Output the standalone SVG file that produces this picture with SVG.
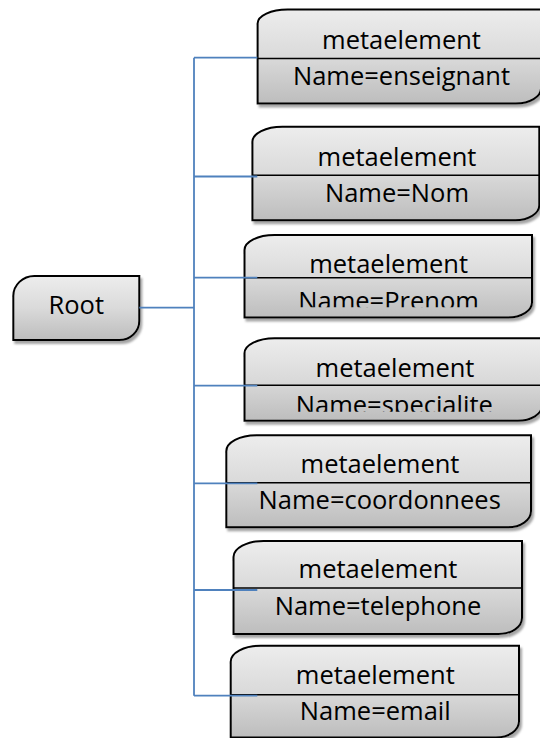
<svg xmlns="http://www.w3.org/2000/svg" width="540" height="738" viewBox="0 0 540 738">
  <defs>
    <linearGradient id="g" x1="0" y1="0" x2="0" y2="1">
      <stop offset="0" stop-color="#EDEDED"/>
      <stop offset="0.5" stop-color="#DADADA"/>
      <stop offset="1" stop-color="#BDBDBD"/>
    </linearGradient>
    <filter id="sh" x="-5%" y="-5%" width="115%" height="120%">
      <feDropShadow dx="2" dy="3" stdDeviation="1" flood-color="#7F7F7F" flood-opacity="0.7"/>
    </filter>
    <clipPath id="c3"><rect x="240" y="230" width="300" height="77.3"/></clipPath>
    <clipPath id="c4"><rect x="240" y="330" width="300" height="81.7"/></clipPath>
  </defs>
  <style>
    .box { fill: url(#g); stroke: #000; stroke-width: 2; filter: url(#sh); }
    .div { stroke: #000; stroke-width: 1.6; fill: none; }
    .t { font-family: "Open Sans", "Noto Sans", "Liberation Sans", sans-serif; font-size: 25.5px; fill: #000; text-anchor: middle; }
    .con { stroke: #4F81BD; stroke-width: 1.8; fill: none; }
  </style>

  <g id="root">
    <path class="box" d="M13.3,296 A21,20 0 0 1 34.3,276 H139.3 V321 A20,19 0 0 1 119.3,340 H13.3 Z"/>
    <text class="t" x="76.3" y="314.3">Root</text>
  </g>

  <g id="n1">
    <path class="box" d="M257.6,23.5 A30,14 0 0 1 287.6,9.5 H541 V88.5 A25,15 0 0 1 516,103.5 H257.6 Z"/>
    <line class="div" x1="257.6" y1="58.5" x2="541" y2="58.5"/>
    <text class="t" x="401.5" y="49.3">metaelement</text>
    <text class="t" x="401.5" y="85">Name=enseignant</text>
  </g>

  <g id="n2">
    <path class="box" d="M252.4,141.7 A30,15 0 0 1 282.4,126.7 H539.3 V205.3 A24,15 0 0 1 515.3,220.3 H252.4 Z"/>
    <line class="div" x1="252.4" y1="175.2" x2="539.3" y2="175.2"/>
    <text class="t" x="397" y="165.7">metaelement</text>
    <text class="t" x="397" y="201.7">Name=Nom</text>
  </g>

  <g id="n3">
    <path class="box" d="M244.5,250 A30,15 0 0 1 274.5,235 H532 V302.5 A24,15 0 0 1 508,317.5 H244.5 Z"/>
    <line class="div" x1="244.5" y1="277.7" x2="532" y2="277.7"/>
    <text class="t" x="388.6" y="272.7">metaelement</text>
    <text class="t" x="388.6" y="310" clip-path="url(#c3)">Name=Prenom</text>
  </g>

  <g id="n4">
    <path class="box" d="M244.5,353.3 A30,15 0 0 1 274.5,338.3 H542 V405.7 A24,15 0 0 1 518,420.7 H244.5 Z"/>
    <line class="div" x1="244.5" y1="385.2" x2="542" y2="385.2"/>
    <text class="t" x="395" y="376.7">metaelement</text>
    <text class="t" x="394.3" y="414" clip-path="url(#c4)">Name=specialite</text>
  </g>

  <g id="n5">
    <path class="box" d="M226.3,451.3 A30,16 0 0 1 256.3,435.3 H531 V511.3 A23,16 0 0 1 508,527.3 H226.3 Z"/>
    <line class="div" x1="226.3" y1="482.7" x2="531" y2="482.7"/>
    <text class="t" x="380" y="473.3">metaelement</text>
    <text class="t" x="379.7" y="509.3">Name=coordonnees</text>
  </g>

  <g id="n6">
    <path class="box" d="M233.5,557 A30,16 0 0 1 263.5,541 H522 V618 A23,16 0 0 1 499,634 H233.5 Z"/>
    <line class="div" x1="233.5" y1="588" x2="522" y2="588"/>
    <text class="t" x="378" y="578.3">metaelement</text>
    <text class="t" x="378" y="615">Name=telephone</text>
  </g>

  <g id="n7">
    <path class="box" d="M230.7,661.7 A30,16 0 0 1 260.7,645.7 H519 V721.5 A23,16 0 0 1 496,737.5 H230.7 Z"/>
    <line class="div" x1="230.7" y1="694.8" x2="519" y2="694.8"/>
    <text class="t" x="375.3" y="684.3">metaelement</text>
    <text class="t" x="375.3" y="720">Name=email</text>
  </g>

  <g id="connectors">
    <line class="con" x1="194" y1="57.7" x2="194" y2="695.7"/>
    <line class="con" x1="139.3" y1="307.7" x2="194" y2="307.7"/>
    <line class="con" x1="194" y1="57.7" x2="257.3" y2="57.7"/>
    <line class="con" x1="194" y1="176.5" x2="257.3" y2="176.5"/>
    <line class="con" x1="194" y1="277.7" x2="257.3" y2="277.7"/>
    <line class="con" x1="194" y1="385.7" x2="257.3" y2="385.7"/>
    <line class="con" x1="194" y1="483.3" x2="257.3" y2="483.3"/>
    <line class="con" x1="194" y1="590" x2="257.3" y2="590"/>
    <line class="con" x1="194" y1="695.7" x2="257.3" y2="695.7"/>
  </g>
</svg>
